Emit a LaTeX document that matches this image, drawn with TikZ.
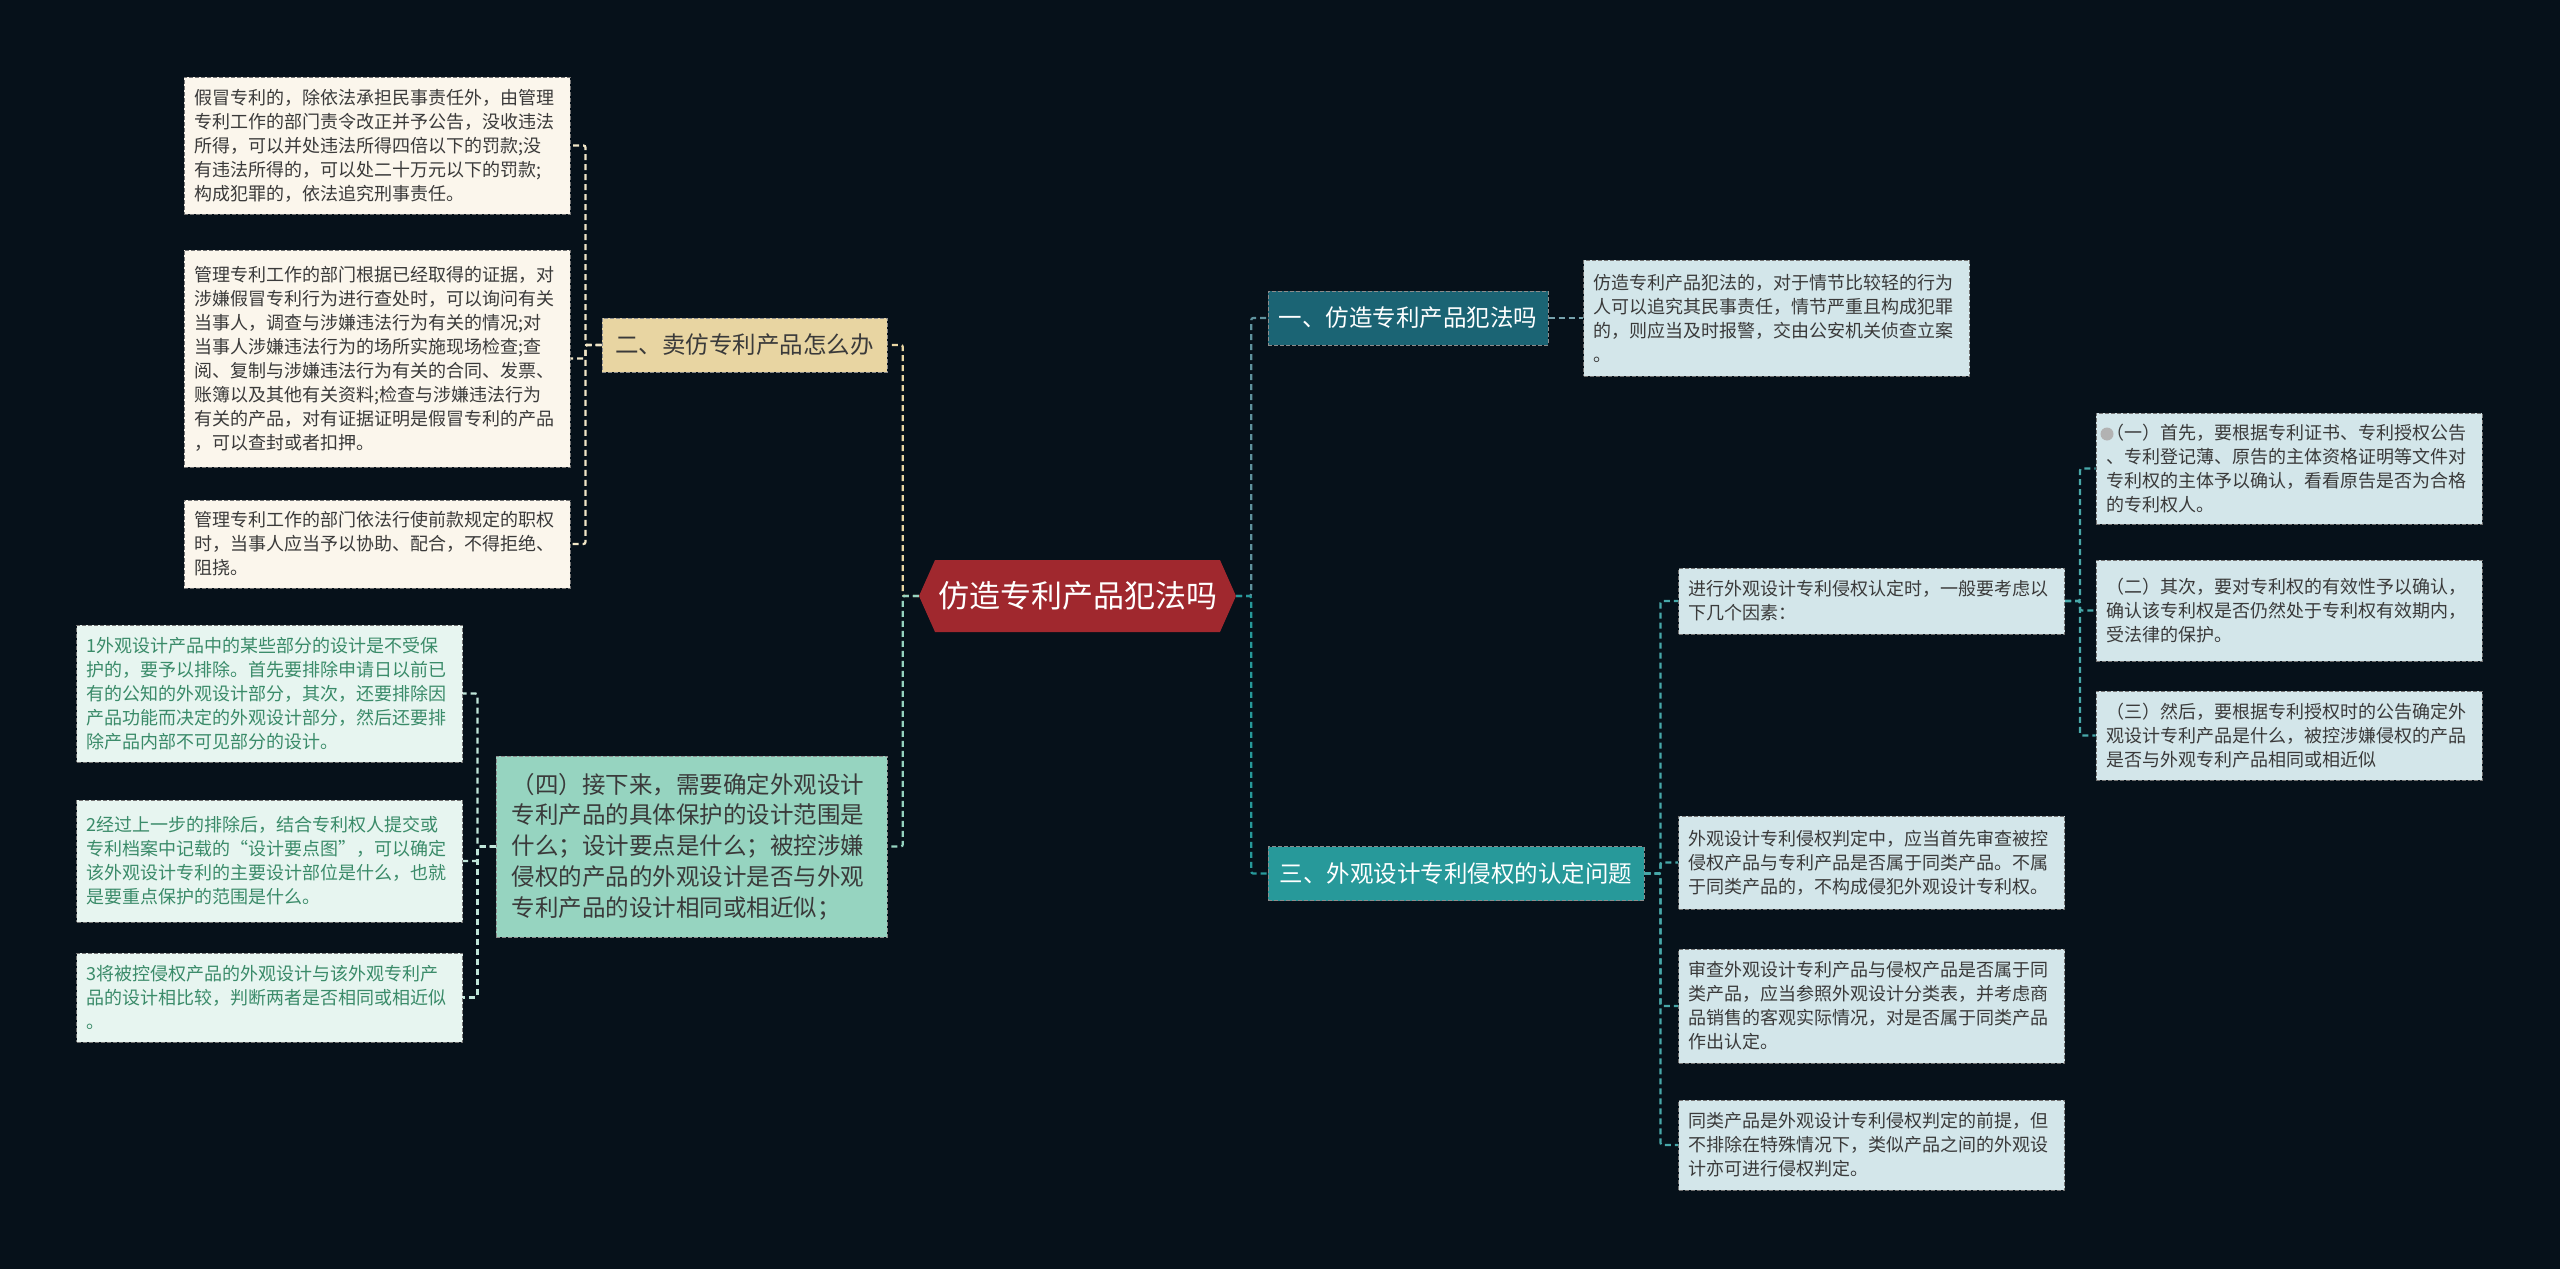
\documentclass[tikz,border=0pt]{standalone}
\usepackage{fontspec}
\setmainfont{Noto Sans CJK SC}
\usetikzlibrary{shapes.symbols}

\definecolor{bgdark}{HTML}{06111A}
\definecolor{rootred}{HTML}{A0282E}
\definecolor{tealdark}{HTML}{1B6474}
\definecolor{tealmid}{HTML}{27999A}
\definecolor{tanbox}{HTML}{E8D5A2}
\definecolor{mintbox}{HTML}{96D4C0}
\definecolor{creambox}{HTML}{FBF6EC}
\definecolor{mintpale}{HTML}{E7F5F0}
\definecolor{bluepale}{HTML}{D3E6EA}
\definecolor{greentext}{HTML}{3A8B69}
\definecolor{greytext}{HTML}{3A3A3A}

\tikzset{
  leaf/.style={draw=black!55, dash pattern=on 4pt off 2pt, line width=1pt,
    text width=366pt, align=left, inner xsep=10pt, inner ysep=4pt,
    font=\fontsize{18}{24}\selectfont, text=greytext},
  branch/.style={draw=black!45, dash pattern=on 4pt off 2pt, line width=1pt,
    minimum height=54pt, inner sep=0pt, font=\fontsize{23.5}{28}\selectfont},
  link/.style={line width=2.2pt, dash pattern=on 6pt off 4pt, rounded corners=2pt},
}

\begin{document}
\begin{tikzpicture}[x=1pt, y=-1pt]
    \fill[bgdark] (0,0) rectangle (2560,1269);
    \useasboundingbox (0,0) rectangle (2560,1269);

    % centre
    \node[signal, signal to=west and east, signal pointer angle=132, fill=rootred, text=white,
          minimum width=317pt, minimum height=72pt, inner sep=0pt,
          font=\fontsize{31}{36}\selectfont] (root) at (1077.5,596) {仿造专利产品犯法吗};

    % main branches
    \node[branch, fill=tealdark, text=white, minimum width=280pt] (b1) at (1408,318) {一、仿造专利产品犯法吗};
    \node[branch, fill=tealmid, text=white, minimum width=376pt] (b3) at (1456,873.5) {三、外观设计专利侵权的认定问题};
    \node[branch, fill=tanbox, text=greytext, minimum width=285pt] (b2) at (744.5,345) {二、卖仿专利产品怎么办};
    \node[branch, fill=mintbox, text=greytext, text width=360pt, align=left, inner xsep=15.5pt,
          minimum height=181pt, font=\fontsize{23.5}{30.7}\selectfont] (b4) at (691.5,846.5)
      {（四）接下来，需要确定外观设计\\
       专利产品的具体保护的设计范围是\\
       什么；设计要点是什么；被控涉嫌\\
       侵权的产品的外观设计是否与外观\\
       专利产品的设计相同或相近似；};

    % left, under b2
    \node[leaf, fill=creambox, minimum height=137pt] (c1) at (377,145.5)
      {假冒专利的，除依法承担民事责任外，由管理\\
       专利工作的部门责令改正并予公告，没收违法\\
       所得，可以并处违法所得四倍以下的罚款;没\\
       有违法所得的，可以处二十万元以下的罚款;\\
       构成犯罪的，依法追究刑事责任。};
    \node[leaf, fill=creambox, minimum height=217pt] (c2) at (377,358.5)
      {管理专利工作的部门根据已经取得的证据，对\\
       涉嫌假冒专利行为进行查处时，可以询问有关\\
       当事人，调查与涉嫌违法行为有关的情况;对\\
       当事人涉嫌违法行为的场所实施现场检查;查\\
       阅、复制与涉嫌违法行为有关的合同、发票、\\
       账簿以及其他有关资料;检查与涉嫌违法行为\\
       有关的产品，对有证据证明是假冒专利的产品\\
       ，可以查封或者扣押。};
    \node[leaf, fill=creambox, minimum height=88pt] (c3) at (377,544)
      {管理专利工作的部门依法行使前款规定的职权\\
       时，当事人应当予以协助、配合，不得拒绝、\\
       阻挠。};

    % left, under b4
    \node[leaf, fill=mintpale, text=greentext, minimum height=137pt] (g1) at (269.5,693.5)
      {1外观设计产品中的某些部分的设计是不受保\\
       护的，要予以排除。首先要排除申请日以前已\\
       有的公知的外观设计部分，其次，还要排除因\\
       产品功能而决定的外观设计部分，然后还要排\\
       除产品内部不可见部分的设计。};
    \node[leaf, fill=mintpale, text=greentext, minimum height=122pt] (g2) at (269.5,861)
      {2经过上一步的排除后，结合专利权人提交或\\
       专利档案中记载的“设计要点图”，可以确定\\
       该外观设计专利的主要设计部位是什么，也就\\
       是要重点保护的范围是什么。};
    \node[leaf, fill=mintpale, text=greentext, minimum height=89pt] (g3) at (269.5,997.5)
      {3将被控侵权产品的外观设计与该外观专利产\\
       品的设计相比较，判断两者是否相同或相近似\\
       。};

    % right
    \node[leaf, fill=bluepale, minimum height=116pt] (l1) at (1776.5,318)
      {仿造专利产品犯法的，对于情节比较轻的行为\\
       人可以追究其民事责任，情节严重且构成犯罪\\
       的，则应当及时报警，交由公安机关侦查立案\\
       。};
    \node[leaf, fill=bluepale, minimum height=66pt] (r0) at (1871.5,601)
      {进行外观设计专利侵权认定时，一般要考虑以\\
       下几个因素：};
    \node[leaf, fill=bluepale, minimum height=111pt] (r1) at (2289,468.5)
      {（一）首先，要根据专利证书、专利授权公告\\
       、专利登记薄、原告的主体资格证明等文件对\\
       专利权的主体予以确认，看看原告是否为合格\\
       的专利权人。};
    \node[circle, fill=black!30, inner sep=0pt, minimum size=13pt] (dot) at (2107,434) {};
    \node[leaf, fill=bluepale, minimum height=101pt] (r2) at (2289,610.5)
      {（二）其次，要对专利权的有效性予以确认，\\
       确认该专利权是否仍然处于专利权有效期内，\\
       受法律的保护。};
    \node[leaf, fill=bluepale, minimum height=89pt] (r3) at (2289,735.5)
      {（三）然后，要根据专利授权时的公告确定外\\
       观设计专利产品是什么，被控涉嫌侵权的产品\\
       是否与外观专利产品相同或相近似};
    \node[leaf, fill=bluepale, minimum height=93pt] (r4) at (1871.5,862.5)
      {外观设计专利侵权判定中，应当首先审查被控\\
       侵权产品与专利产品是否属于同类产品。不属\\
       于同类产品的，不构成侵犯外观设计专利权。};
    \node[leaf, fill=bluepale, minimum height=114pt] (r5) at (1871.5,1006)
      {审查外观设计专利产品与侵权产品是否属于同\\
       类产品，应当参照外观设计分类表，并考虑商\\
       品销售的客观实际情况，对是否属于同类产品\\
       作出认定。};
    \node[leaf, fill=bluepale, minimum height=90pt] (r6) at (1871.5,1145)
      {同类产品是外观设计专利侵权判定的前提，但\\
       不排除在特殊情况下，类似产品之间的外观设\\
       计亦可进行侵权判定。};

    % connectors
    \draw[link, tanbox] (root.west) -- ++(-16,0) |- (b2.east);
    \draw[link, mintbox] (root.west) -- ++(-16,0) |- (b4.east);
    \draw[link, tealdark!70!white] (root.east) -- ++(15,0) |- (b1.west);
    \draw[link, tealmid] (root.east) -- ++(15,0) |- (b3.west);

    \draw[link, tealdark!60!white] (b1.east) -- (l1.west);

    \foreach \n in {c1,c2,c3}
        \draw[link, tanbox!60!white] (b2.west) -- ++(-16,0) |- (\n.east);
    \foreach \n in {g1,g2,g3}
        \draw[link, mintbox!60!white] (b4.west) -- ++(-18,0) |- (\n.east);
    \foreach \n in {r0,r4,r5,r6}
        \draw[link, tealmid!85!white] (b3.east) -- ++(16,0) |- (\n.west);
    \foreach \n in {r1,r2,r3}
        \draw[link, tealmid!85!white] (r0.east) -- ++(15,0) |- (\n.west);
\end{tikzpicture}
\end{document}
